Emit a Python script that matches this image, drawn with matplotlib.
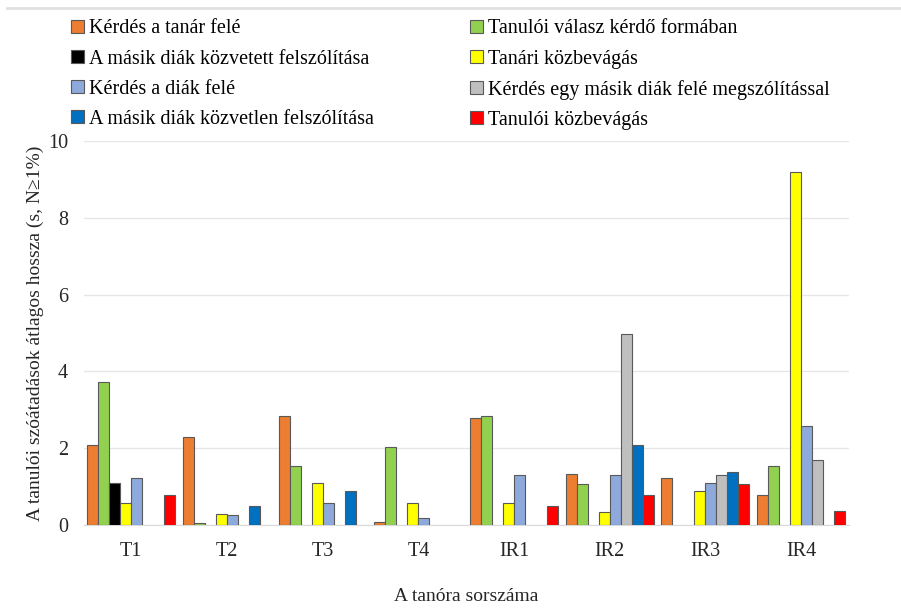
import matplotlib
matplotlib.use('Agg')
import matplotlib.pyplot as plt
import numpy as np
from matplotlib.lines import Line2D

plt.rcParams['font.family'] = ['Liberation Serif', 'DejaVu Serif']

lessons = ['T1', 'T2', 'T3', 'T4', 'IR1', 'IR2', 'IR3', 'IR4']
series = ['Kérdés a tanár felé', 'Tanulói válasz kérdő formában',
          'A másik diák közvetett felszólítása', 'Tanári közbevágás',
          'Kérdés a diák felé', 'Kérdés egy másik diák felé megszólítással',
          'A másik diák közvetlen felszólítása', 'Tanulói közbevágás']
colors = ['#ED7D31', '#92D050', '#000000', '#FFFF00',
          '#8EA9DB', '#BFBFBF', '#0070C0', '#FF0000']

kerdes_tanar = [2.08, 2.28, 2.85, 0.08, 2.78, 1.34, 1.22, 0.79]
valasz_kerdo = [3.73, 0.05, 1.54, 2.04, 2.84, 1.07, 0, 1.54]
kozvetett = [1.09, 0, 0, 0, 0, 0, 0, 0]
tanari_kozbe = [0.58, 0.28, 1.09, 0.58, 0.58, 0.35, 0.89, 9.18]
kerdes_diak = [1.23, 0.25, 0.58, 0.18, 1.29, 1.29, 1.09, 2.59]
kerdes_masik = [0, 0, 0, 0, 0, 4.98, 1.29, 1.68]
kozvetlen = [0, 0.49, 0.89, 0, 0, 2.08, 1.38, 0]
tanuloi_kozbe = [0.79, 0, 0, 0, 0.49, 0.77, 1.07, 0.37]

values = [kerdes_tanar, valasz_kerdo, kozvetett, tanari_kozbe,
          kerdes_diak, kerdes_masik, kozvetlen, tanuloi_kozbe]

fig = plt.figure(figsize=(9.01, 6.08), dpi=100)
ax = fig.add_axes([0.0927, 0.1365, 0.8495, 0.6316])

x = np.arange(len(lessons))
w = 0.115
handles = []
for i, (name, vals, c) in enumerate(zip(series, values, colors)):
    pos = x + (i - 3.5) * w
    v = np.array(vals, dtype=float)
    mask = v > 0
    ax.bar(pos[mask], v[mask], width=w, color=c, edgecolor='#595959', linewidth=0.8, zorder=3)
    handles.append(plt.Rectangle((0, 0), 1, 1, facecolor=c, edgecolor='#595959', linewidth=0.8, label=name))

ax.set_xlim(-0.5, len(lessons) - 0.5)
ax.set_ylim(0, 10)
ax.set_yticks([0, 2, 4, 6, 8, 10])
ax.set_xticks(x)
ax.set_xticklabels(lessons)
ax.tick_params(axis='both', length=0, labelsize=14.5, colors='#262626')
ax.tick_params(axis='x', pad=12)
ax.tick_params(axis='y', pad=11)
ax.grid(axis='y', color='#E6E6E6', linewidth=1, zorder=0)
for s in ['top', 'right', 'left']:
    ax.spines[s].set_visible(False)
ax.spines['bottom'].set_color('#D9D9D9')

ax.set_xlabel('A tanóra sorszáma', fontsize=14, labelpad=20, color='#262626')
ax.set_ylabel('A tanulói szóátadások átlagos hossza (s, N\u22651%)', fontsize=14, labelpad=3, color='#262626')

# Excel fills the legend row by row, matplotlib column by column
order = [0, 2, 4, 6, 1, 3, 5, 7]
fig.legend([handles[i] for i in order], [series[i] for i in order],
           ncol=2, loc='upper left', bbox_to_anchor=(0.079, 0.968),
           frameon=False, fontsize=14.5, handlelength=0.62, handleheight=0.62,
           handletextpad=0.26, columnspacing=4.8, labelspacing=0.55,
           borderaxespad=0, borderpad=0)

fig.add_artist(Line2D([0.008, 1.0], [0.987, 0.987], color='#E0E0E0', linewidth=2))

fig.savefig('out.png', dpi=100)
